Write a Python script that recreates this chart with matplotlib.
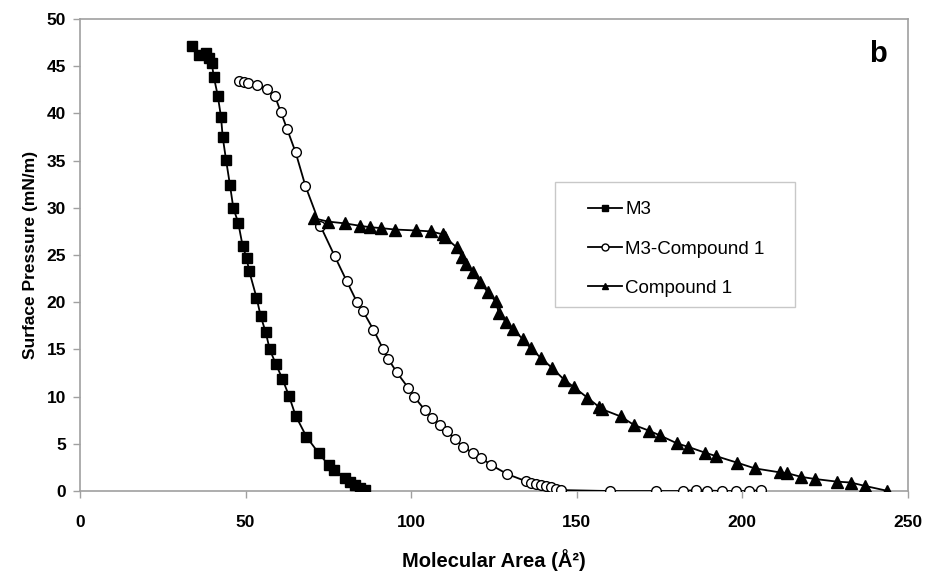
import matplotlib
matplotlib.use("Agg")
import matplotlib.pyplot as plt
from matplotlib.patches import Rectangle

plt.rcParams['font.family'] = ['Liberation Sans', 'DejaVu Sans']

# isotherm data
m3_area = [33.7, 36.0, 38.0, 39.0, 39.8, 40.4, 41.6, 42.6, 43.1, 44.1, 45.3, 46.3,
           47.8, 49.1, 50.3, 51.1, 53.3, 54.6, 56.1, 57.3, 59.1, 61.1, 63.1, 65.1,
           68.4, 72.1, 75.1, 76.6, 80.1, 81.6, 83.1, 84.6, 86.1]
m3_pressure = [47.1, 46.2, 46.4, 45.9, 45.3, 43.9, 41.9, 39.6, 37.5, 35.1, 32.4, 30.0,
               28.4, 26.0, 24.7, 23.3, 20.5, 18.5, 16.8, 15.0, 13.5, 11.9, 10.1, 8.0,
               5.75, 4.0, 2.75, 2.2, 1.35, 1.0, 0.64, 0.29, 0.1]

mix_area = [48.1, 49.6, 50.8, 53.6, 56.6, 58.9, 60.6, 62.6, 65.1, 68.1, 72.6, 76.9,
            80.6, 83.6, 85.4, 88.6, 91.6, 93.1, 95.6, 99.2, 100.9, 104.1, 106.4, 108.7,
            110.7, 113.2, 115.7, 118.7, 121.2, 124.2, 129.0, 134.6, 136.2, 137.7, 139.2,
            140.7, 142.2, 143.7, 145.2, 160.0, 174.0, 182.0, 186.0, 189.5, 194.0, 198.0,
            202.0, 205.8]
mix_pressure = [43.4, 43.3, 43.2, 43.0, 42.6, 41.8, 40.2, 38.3, 35.9, 32.3, 28.1, 24.9,
                22.2, 20.05, 19.1, 17.1, 15.0, 14.0, 12.6, 10.9, 10.0, 8.6, 7.7, 7.0,
                6.4, 5.5, 4.7, 4.0, 3.5, 2.75, 1.8, 1.05, 0.8, 0.7, 0.6, 0.53, 0.39,
                0.25, 0.1, 0.0, 0.0, 0.0, 0.1, 0.05, 0.0, 0.0, 0.0, 0.1]

cmp_area = [70.6, 74.8, 80.1, 84.5, 87.6, 91.0, 95.2, 101.6, 106.0, 109.5, 110.2,
            113.8, 115.4, 116.7, 118.7, 120.9, 123.1, 125.5, 126.5, 128.6, 130.7, 133.7,
            136.2, 139.2, 142.7, 146.2, 149.2, 153.2, 156.8, 157.8, 163.3, 167.3, 171.8,
            175.1, 180.3, 183.5, 188.8, 192.1, 198.5, 203.8, 211.3, 213.5, 217.8, 222.1,
            228.5, 232.8, 237.2, 243.7]
cmp_pressure = [28.9, 28.55, 28.35, 28.1, 27.95, 27.85, 27.7, 27.6, 27.5, 27.2, 26.9,
                25.8, 24.8, 24.1, 23.15, 22.1, 21.1, 20.1, 18.9, 17.9, 17.2, 16.1,
                15.1, 14.1, 13.0, 11.8, 11.0, 9.9, 8.9, 8.65, 7.9, 7.0, 6.4,
                5.9, 5.05, 4.7, 4.06, 3.7, 3.0, 2.4, 1.98, 1.9, 1.5, 1.27,
                1.0, 0.9, 0.53, 0.03]


def main():
    fig = plt.figure(figsize=(9.28, 5.77), dpi=100)
    ax = fig.add_axes([0.0862, 0.149, 0.892, 0.818])

    ax.plot(m3_area, m3_pressure, color='black', lw=1.3, marker='s', ms=7.5,
            mfc='black', mec='black', label='M3', zorder=3)
    ax.plot(mix_area, mix_pressure, color='black', lw=1.3, marker='o', ms=7,
            mfc='white', mec='black', mew=1.0, label='M3-Compound 1', zorder=3)
    ax.plot(cmp_area, cmp_pressure, color='black', lw=1.3, marker='^', ms=8,
            mfc='black', mec='black', label='Compound 1', zorder=3)

    ax.set_xlim(0, 250)
    ax.set_ylim(0, 50)
    ax.set_xticks(range(0, 251, 50))
    ax.set_yticks(range(0, 51, 5))
    for s in ax.spines.values():
        s.set_color('#a0a0a0')
        s.set_linewidth(1.2)
    ax.tick_params(direction='out', length=5, color='#a0a0a0', width=1.0,
                   labelsize=12.5, pad=5)
    for lab in ax.get_xticklabels() + ax.get_yticklabels():
        lab.set_fontweight('bold')
    ax.tick_params(axis='x', pad=12)

    ax.set_xlabel('Molecular Area (Å²)', fontsize=14.5, fontweight='bold', labelpad=14)
    ax.set_ylabel('Surface Pressure (mN/m)', fontsize=12.5, fontweight='bold', labelpad=6)

    ax.text(0.975, 0.925, 'b', transform=ax.transAxes, fontsize=21,
            fontweight='bold', ha='right', va='center')

    # legend box drawn separately so the entries can sit inset like in Excel
    fig.patches.append(Rectangle((0.598, 0.468), 0.259, 0.2166, transform=fig.transFigure,
                                 fill=False, edgecolor='#c8c8c8', lw=1.0))
    leg = ax.legend(loc='upper left', bbox_to_anchor=(0.6336, 0.651),
                    bbox_transform=fig.transFigure, fontsize=13.5, frameon=False,
                    handlelength=1.8, labelspacing=1.18, borderpad=0,
                    handletextpad=0.2, borderaxespad=0)
    for h in leg.get_lines():
        h.set_markersize(5)

    fig.savefig('out.png', dpi=100)


if __name__ == "__main__":
    main()
